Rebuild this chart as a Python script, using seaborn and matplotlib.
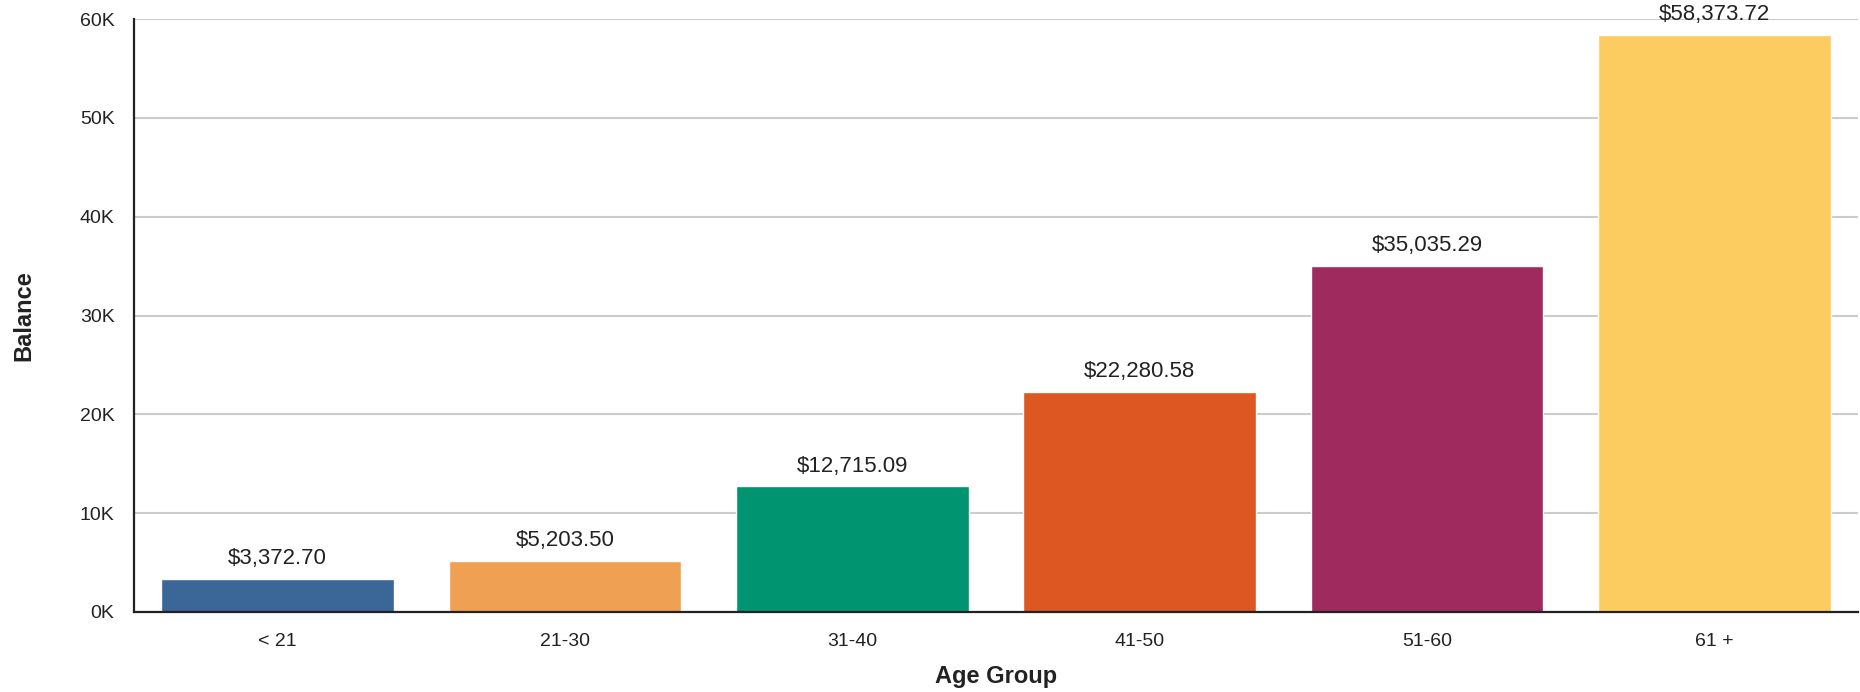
import matplotlib
matplotlib.use("Agg")
import matplotlib.pyplot as plt
import seaborn as sns
import pandas as pd
from matplotlib.ticker import FuncFormatter, MultipleLocator

categories = ["< 21", "21-30", "31-40", "41-50", "51-60", "61 +"]
balances = [3372.70, 5203.50, 12715.09, 22280.58, 35035.29, 58373.72]
colors = ["#3A6698", "#EFA052", "#009470", "#DC5721", "#9E2A5E", "#FDCC60"]
x_title = "Age Group"
y_title = "Balance"

sns.set_theme(style="white")
plt.rcParams["font.family"] = ["Liberation Sans", "DejaVu Sans"]

df = pd.DataFrame({"group": categories, "balance": balances})

W, H = 1860, 692
fig, ax = plt.subplots(figsize=(W / 100, H / 100), dpi=100)
L, R, T, B = 134, 1858, 19, 612
fig.subplots_adjust(left=L / W, right=R / W, top=1 - T / H, bottom=1 - B / H)

sns.barplot(data=df, x="group", y="balance", hue="group", palette=colors,
            order=categories, hue_order=categories, legend=False,
            width=0.81, saturation=1, ax=ax, zorder=3)

ax.set_ylim(0, 60000)
ax.set_xlim(-0.5, len(categories) - 0.5)
ax.yaxis.set_major_locator(MultipleLocator(10000))
ax.yaxis.set_major_formatter(FuncFormatter(lambda v, p: f"{v/1000:.0f}K"))
ax.grid(axis="y", color="#cccccc", linewidth=1.5, zorder=0)
ax.set_axisbelow(True)

for s in ["top", "right"]:
    ax.spines[s].set_visible(False)
for s in ["left", "bottom"]:
    ax.spines[s].set_color("#222222")
    ax.spines[s].set_linewidth(1.6)
    ax.spines[s].set_zorder(4)

ax.tick_params(axis="both", length=0, labelsize=14, colors="#222222")
ax.tick_params(axis="x", pad=15)
ax.tick_params(axis="y", pad=14)

ax.set_xlabel(x_title, fontsize=17, fontweight="bold", color="#222222", va="center")
ax.xaxis.set_label_coords(0.5, (B - 677) / (B - T))
ax.set_ylabel(y_title, fontsize=17, fontweight="bold", color="#222222", va="center")
ax.yaxis.set_label_coords((24 - L) / (R - L), 0.5)

for i, v in enumerate(balances):
    ax.annotate(f"${v:,.2f}", xy=(i, v), xytext=(0, 7), textcoords="offset points",
                ha="center", va="bottom", fontsize=16, color="#222222", zorder=5)

fig.savefig("out.png", dpi=100)
